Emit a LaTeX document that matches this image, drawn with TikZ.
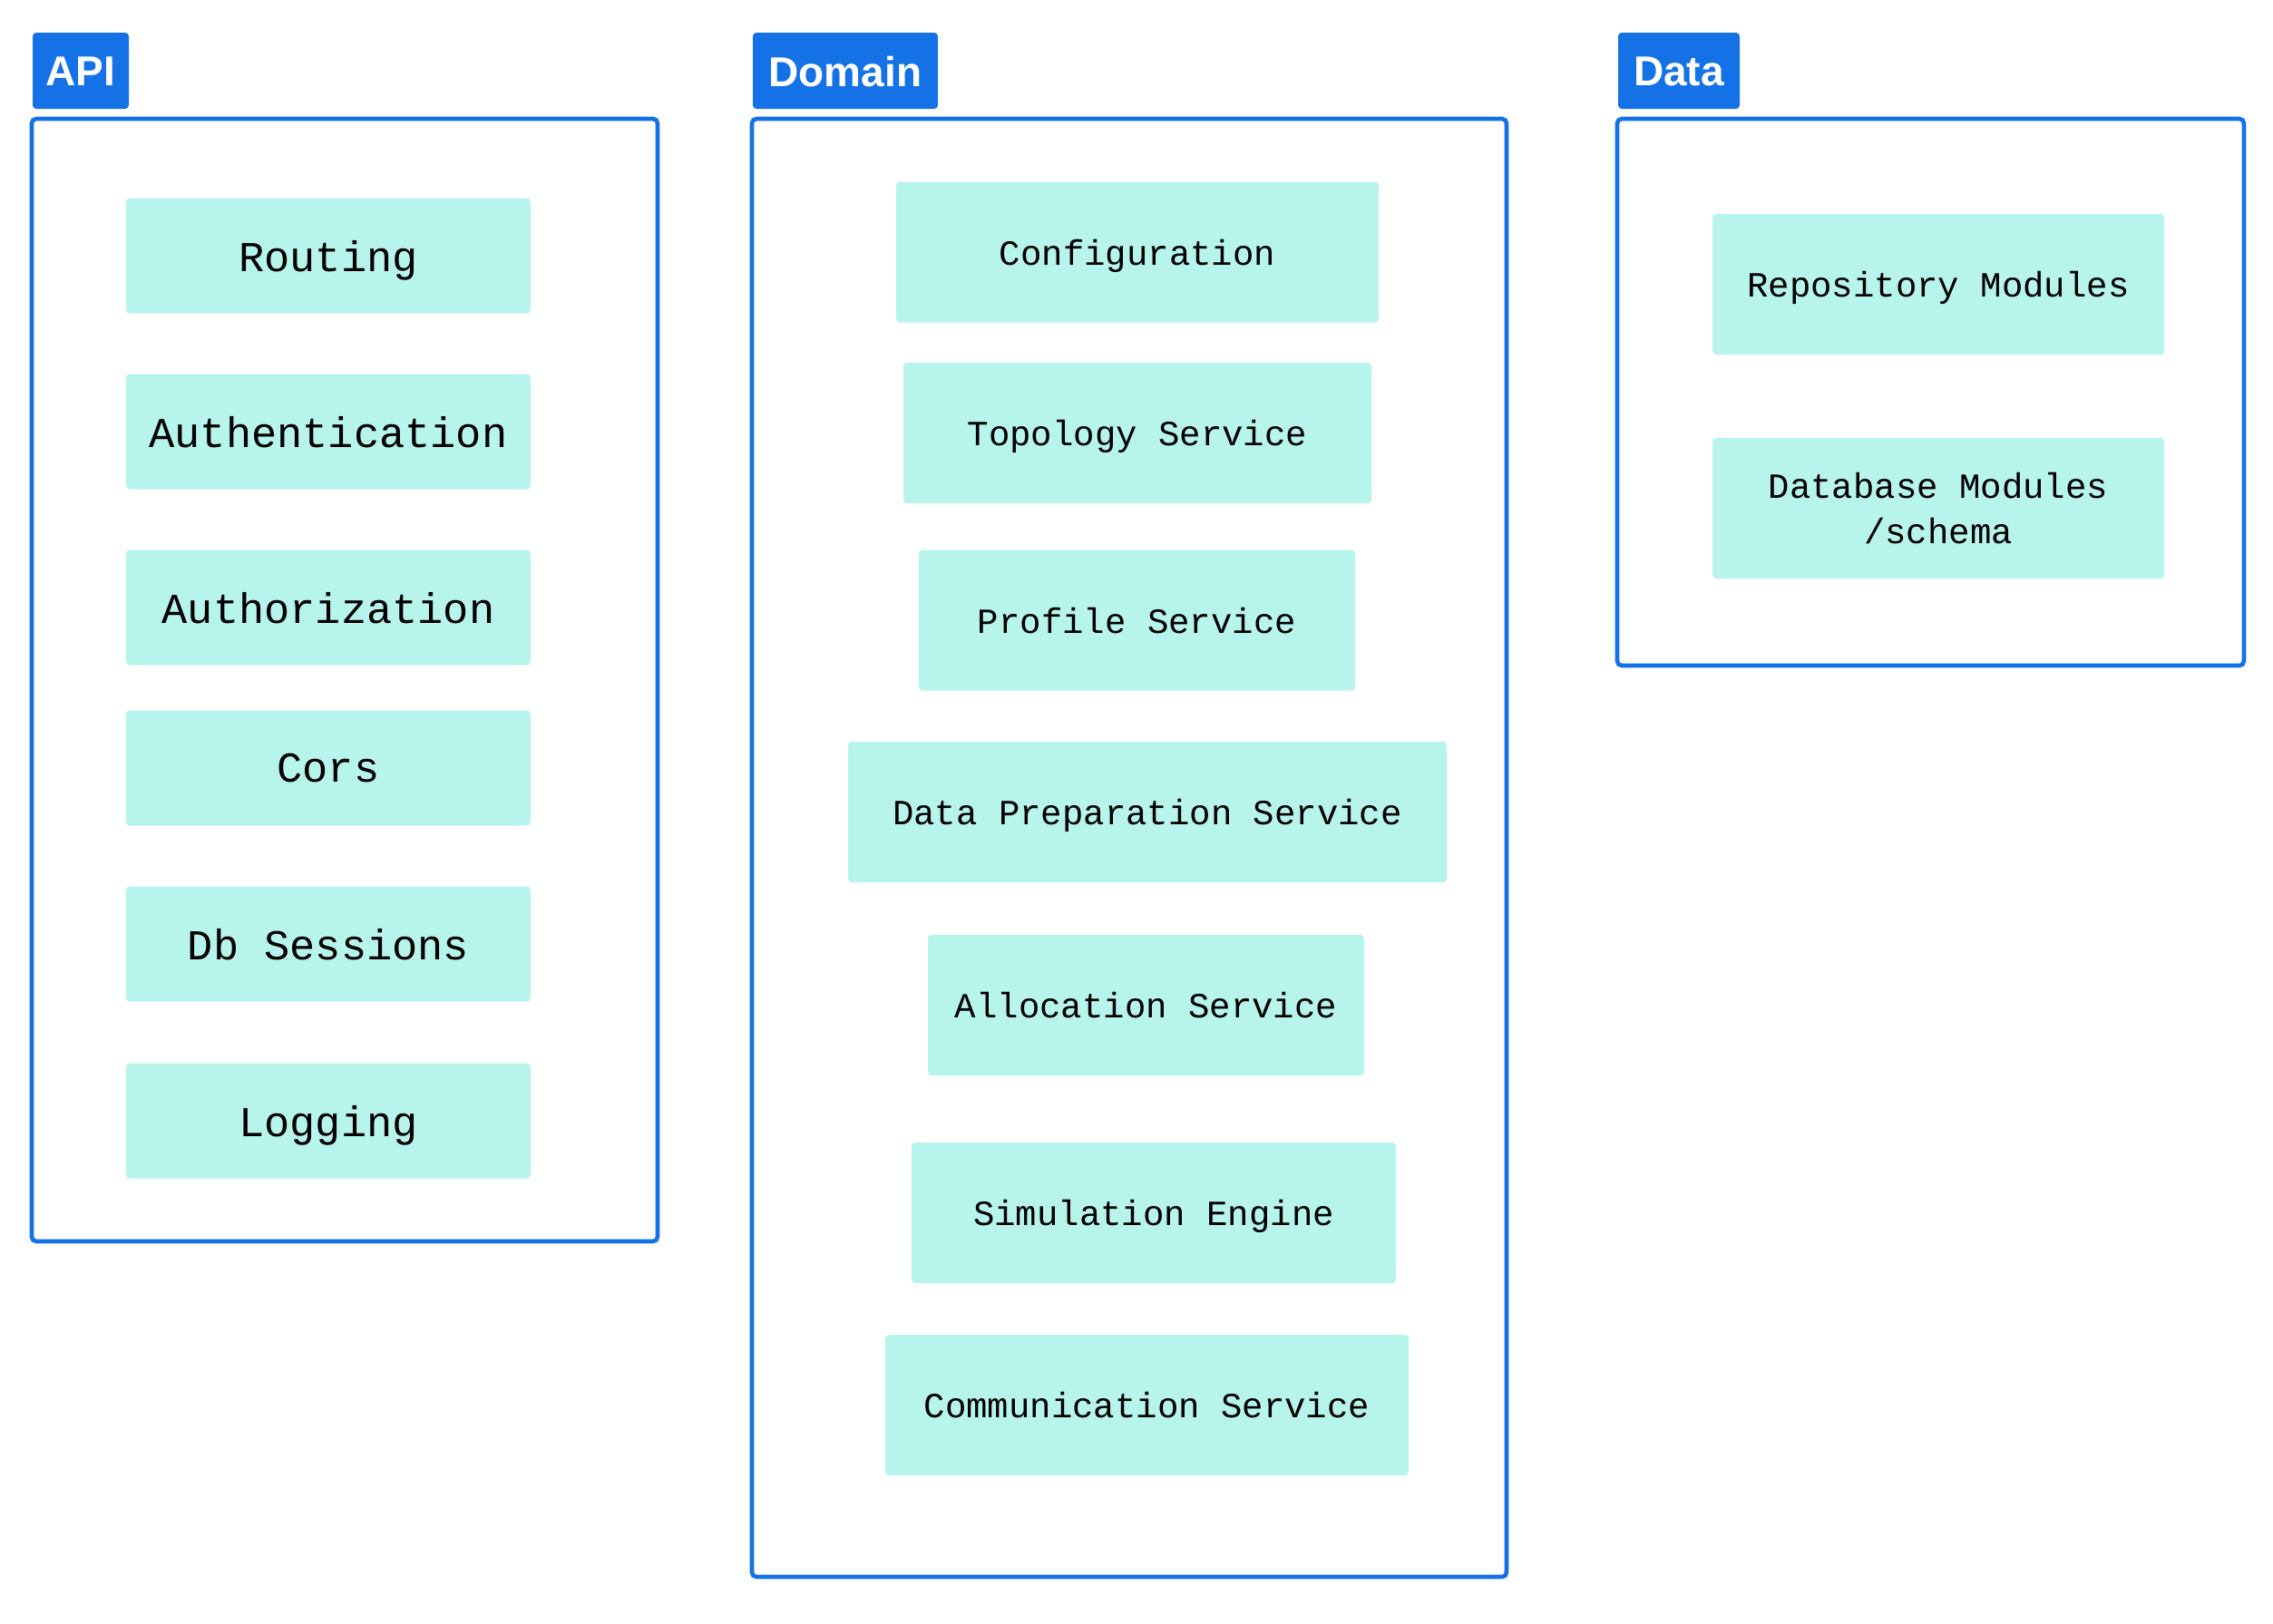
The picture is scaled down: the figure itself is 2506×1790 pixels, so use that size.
\documentclass[tikz,border=0pt]{standalone}
\usepackage{fontspec}
\newfontfamily\boxfont{Liberation Mono}
\newfontfamily\tagfont{Liberation Sans}
\definecolor{frameblue}{HTML}{1471E6}
\definecolor{mint}{HTML}{B6F4EC}
\begin{document}
\begin{tikzpicture}[x=0.5pt,y=-0.5pt,
  frame/.style={draw=frameblue,line width=2.3pt,rounded corners=2.5pt},
  tagbox/.style={fill=frameblue,rounded corners=2pt},
  tagtext/.style={text=white,font=\tagfont\bfseries\fontsize{23}{27}\selectfont,inner sep=0pt},
  apibox/.style={fill=mint,rounded corners=2pt,minimum width=223pt,minimum height=63.5pt,inner sep=0pt,text depth=0pt,font=\boxfont\fontsize{23.5}{28}\selectfont},
  dombox/.style={fill=mint,rounded corners=2pt,minimum height=77.5pt,inner sep=0pt,text depth=0pt,align=center,font=\boxfont\fontsize{19.5}{25}\selectfont}
]
\useasboundingbox (0,0) rectangle (2506,1790);
% API
\fill[tagbox] (36,36) rectangle (142,120);
\node[tagtext] (apitag) at (89,79) {API};
\draw[frame] (35,131) rectangle (725,1369);
\node[apibox] (routing) at (362,282) {Routing};
\node[apibox] (authn) at (362,476) {Authentication};
\node[apibox] (authz) at (362,670) {Authorization};
\node[apibox] (cors) at (362,847) {Cors};
\node[apibox] (dbsess) at (362,1041) {Db Sessions};
\node[apibox] (logging) at (362,1236) {Logging};
% Domain
\fill[tagbox] (830,36) rectangle (1034,120);
\node[tagtext] (domtag) at (932,79) {Domain};
\draw[frame] (829,131) rectangle (1661,1739);
\node[dombox,minimum width=266pt] (config) at (1254,278) {Configuration};
\node[dombox,minimum width=258pt] (topo) at (1254,477.5) {Topology Service};
\node[dombox,minimum width=240.5pt] (profile) at (1253.5,684) {Profile Service};
\node[dombox,minimum width=330pt] (dataprep) at (1265,895.5) {Data Preparation Service};
\node[dombox,minimum width=240.5pt] (alloc) at (1263.5,1108.5) {Allocation Service};
\node[dombox,minimum width=267pt] (sim) at (1272,1337.5) {Simulation Engine};
\node[dombox,minimum width=288.5pt] (comm) at (1264.5,1549.5) {Communication Service};
% Data
\fill[tagbox] (1784,36) rectangle (1918,120);
\node[tagtext] (datatag) at (1851,79) {Data};
\draw[frame] (1783,131) rectangle (2474,734);
\node[dombox,minimum width=249pt] (repo) at (2137,313.5) {Repository Modules};
\node[dombox,minimum width=249pt] (dbmod) at (2137,560.5) {Database Modules\\/schema};
\end{tikzpicture}
\end{document}
